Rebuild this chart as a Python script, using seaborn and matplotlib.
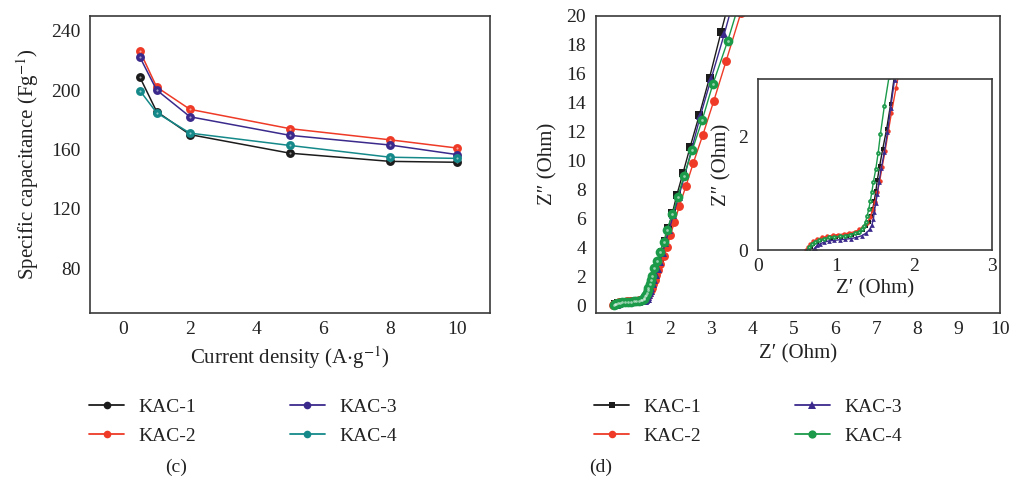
import matplotlib
matplotlib.use("Agg")
import matplotlib.pyplot as plt
from matplotlib.lines import Line2D
import seaborn as sns
import pandas as pd

sns.set_theme(style="white")
plt.rcParams["font.family"] = ["Liberation Serif", "DejaVu Serif"]
plt.rcParams["mathtext.fontset"] = "stix"

# ---- rate capability data (panel c) ----
current_density = [0.5, 1, 2, 5, 8, 10]
kac1_cap = [208.5, 185.5, 170.0, 157.5, 152.0, 151.4]
kac2_cap = [226.0, 202.0, 187.0, 174.0, 166.5, 161.0]
kac3_cap = [222.0, 200.0, 182.0, 169.5, 163.0, 156.6]
kac4_cap = [199.5, 184.7, 171.0, 162.7, 154.8, 154.0]

# ---- Nyquist data (panel d): real part Z' and imaginary part Z'' ----
kac1_zre = [0.66, 0.68, 0.71, 0.75, 0.80, 0.86, 0.93, 1.00, 1.07, 1.14, 1.21, 1.28,
            1.34, 1.39, 1.42, 1.45, 1.47, 1.49, 1.51, 1.53, 1.56, 1.60, 1.65, 1.70,
            1.75, 1.81, 1.88, 1.96, 2.06, 2.17, 2.32, 2.49, 2.71, 2.96, 3.24, 3.58]
kac1_zim = [0.00, 0.05, 0.10, 0.14, 0.17, 0.19, 0.21, 0.22, 0.23, 0.25, 0.27, 0.30,
            0.35, 0.42, 0.50, 0.60, 0.72, 0.86, 1.03, 1.23, 1.48, 1.78, 2.13, 2.56,
            3.07, 3.68, 4.42, 5.30, 6.37, 7.64, 9.16, 10.93, 13.12, 15.72, 18.87, 22.60]

kac2_zre = [0.62, 0.64, 0.67, 0.71, 0.76, 0.82, 0.89, 0.96, 1.03, 1.10, 1.17, 1.24,
            1.30, 1.35, 1.40, 1.44, 1.47, 1.50, 1.53, 1.56, 1.59, 1.63, 1.67, 1.71,
            1.77, 1.85, 1.93, 2.01, 2.11, 2.23, 2.39, 2.57, 2.80, 3.06, 3.36, 3.72, 4.10]
kac2_zim = [0.00, 0.05, 0.10, 0.15, 0.19, 0.22, 0.24, 0.26, 0.27, 0.28, 0.30, 0.32,
            0.36, 0.41, 0.48, 0.58, 0.70, 0.84, 1.01, 1.21, 1.45, 1.74, 2.08, 2.40,
            2.85, 3.40, 4.03, 4.83, 5.75, 6.86, 8.24, 9.85, 11.78, 14.08, 16.85, 20.20, 24.20]

kac3_zre = [0.71, 0.73, 0.76, 0.80, 0.85, 0.91, 0.98, 1.05, 1.12, 1.19, 1.26, 1.33,
            1.39, 1.43, 1.46, 1.48, 1.49, 1.51, 1.53, 1.55, 1.58, 1.62, 1.66, 1.70,
            1.75, 1.82, 1.89, 1.98, 2.08, 2.21, 2.36, 2.53, 2.74, 3.00, 3.32, 3.68]
kac3_zim = [0.00, 0.04, 0.08, 0.11, 0.14, 0.16, 0.17, 0.18, 0.19, 0.20, 0.22, 0.25,
            0.30, 0.36, 0.44, 0.55, 0.67, 0.82, 0.99, 1.19, 1.43, 1.72, 2.07, 2.49,
            2.99, 3.59, 4.31, 5.18, 6.22, 7.47, 8.97, 10.80, 13.10, 15.65, 18.76, 22.50]

kac4_zre = [0.64, 0.66, 0.69, 0.73, 0.78, 0.84, 0.91, 0.98, 1.05, 1.12, 1.18, 1.24,
            1.29, 1.33, 1.36, 1.38, 1.40, 1.42, 1.44, 1.46, 1.48, 1.51, 1.54, 1.57,
            1.62, 1.68, 1.76, 1.85, 1.93, 2.06, 2.19, 2.34, 2.54, 2.78, 3.04, 3.40, 3.78]
kac4_zim = [0.00, 0.05, 0.10, 0.14, 0.17, 0.20, 0.22, 0.23, 0.24, 0.25, 0.27, 0.29,
            0.32, 0.36, 0.42, 0.50, 0.60, 0.72, 0.86, 1.02, 1.20, 1.42, 1.70, 2.04,
            2.53, 3.04, 3.68, 4.37, 5.22, 6.26, 7.48, 8.93, 10.70, 12.77, 15.26, 18.25, 21.80]

labels = ["KAC-1", "KAC-2", "KAC-3", "KAC-4"]
cap_colors = ["#1c1c1c", "#EE3A26", "#3B2A8C", "#15898A"]
eis_colors = ["#1c1c1c", "#EE3A26", "#3B2A8C", "#1B9A4A"]
eis_markers = ["s", "o", "^", "o"]
eis_ms = [5.2, 6.4, 6.2, 7.0]
eis_ms_inset = [3.0, 3.2, 3.4, 3.4]

FS = 14
FS_LABEL = 15
TXT = "#222222"
SPINE = "#3a3a3a"

fig = plt.figure(figsize=(10.10, 4.83), dpi=100)
ax_c = fig.add_axes([0.0891, 0.352, 0.396, 0.6155])
ax_d = fig.add_axes([0.5898, 0.352, 0.4002, 0.6155])
ax_in = fig.add_axes([0.7505, 0.4824, 0.2317, 0.354])


def style_axes(ax, pad_x=6, pad_y=7):
    for s in ax.spines.values():
        s.set_visible(True)
        s.set_color(SPINE)
        s.set_linewidth(1.2)
    ax.tick_params(axis="both", length=0, labelsize=FS, colors=TXT)
    ax.tick_params(axis="x", pad=pad_x)
    ax.tick_params(axis="y", pad=pad_y)
    ax.grid(False)
    ax.set_facecolor("white")


def shine(ax, df, x, y, ms, sort=True):
    # small specular highlight drawn on top of sphere-like markers
    sns.lineplot(data=df, x=x, y=y, ax=ax, sort=sort, color="white", lw=0,
                 marker="o", markersize=ms, markeredgewidth=0, alpha=0.55,
                 legend=False)


# ---- panel (c) ----
cap_series = [kac1_cap, kac2_cap, kac3_cap, kac4_cap]
for lab, vals, col in zip(labels, cap_series, cap_colors):
    df = pd.DataFrame({"j": current_density, "C": vals})
    sns.lineplot(data=df, x="j", y="C", ax=ax_c, color=col, lw=1.1,
                 marker="o", markersize=6.4, markeredgewidth=0, legend=False)
    shine(ax_c, df, "j", "C", 1.5)
ax_c.set_xlim(-1, 11)
ax_c.set_ylim(50, 250)
ax_c.set_xticks([0, 2, 4, 6, 8, 10])
ax_c.set_yticks([80, 120, 160, 200, 240])
style_axes(ax_c)
ax_c.set_xlabel("Current density (A$\\cdot$g$^{-1}$)", fontsize=FS_LABEL, labelpad=4, color=TXT)
ax_c.set_ylabel("Specific capacitance (Fg$^{-1}$)", fontsize=FS_LABEL, labelpad=7, color=TXT)

# ---- panel (d) ----
zre = [kac1_zre, kac2_zre, kac3_zre, kac4_zre]
zim = [kac1_zim, kac2_zim, kac3_zim, kac4_zim]
for ax, sizes in ((ax_d, eis_ms), (ax_in, eis_ms_inset)):
    for lab, x, y, col, mk, ms in zip(labels, zre, zim, eis_colors, eis_markers, sizes):
        df = pd.DataFrame({"Zre": x, "Zim": y})
        sns.lineplot(data=df, x="Zre", y="Zim", ax=ax, sort=False, color=col,
                     lw=1.0, marker=mk, markersize=ms, markeredgewidth=0,
                     legend=False)
        if col == eis_colors[3]:
            shine(ax, df, "Zre", "Zim", ms * 0.28, sort=False)

ax_d.set_xlim(0.2, 10)
ax_d.set_ylim(-0.55, 20)
ax_d.set_xticks(range(1, 11))
ax_d.set_yticks(range(0, 21, 2))
style_axes(ax_d)
ax_d.set_xlabel("Z\u2032 (Ohm)", fontsize=FS_LABEL, labelpad=4, color=TXT)
ax_d.set_ylabel("Z\u2033 (Ohm)", fontsize=FS_LABEL, labelpad=6, color=TXT)

ax_in.set_xlim(0, 3)
ax_in.set_ylim(0, 3)
ax_in.set_xticks([0, 1, 2, 3])
ax_in.set_yticks([0, 2])
style_axes(ax_in, pad_x=6, pad_y=7)
ax_in.set_xlabel("Z\u2032 (Ohm)", fontsize=FS_LABEL, labelpad=3, color=TXT)
ax_in.set_ylabel("Z\u2033 (Ohm)", fontsize=FS_LABEL, labelpad=5, color=TXT)

# ---- legends below each panel ----
cap_handles = [Line2D([0], [0], color=c, lw=1.3, marker="o", markersize=5.5,
                      markeredgewidth=0) for c in cap_colors]
eis_handles = [Line2D([0], [0], color=c, lw=1.3, marker=m, markersize=s * 0.85,
                      markeredgewidth=0)
               for c, m, s in zip(eis_colors, eis_markers, eis_ms)]

leg_kw = dict(ncol=2, frameon=False, fontsize=FS, handlelength=1.8,
              handletextpad=0.75, columnspacing=4.8, labelspacing=0.62,
              borderaxespad=0, borderpad=0, labelcolor=TXT)
fig.legend(cap_handles, labels, loc="upper left",
           bbox_to_anchor=(89 / 1010, 1 - 398 / 483), **leg_kw)
fig.legend(eis_handles, labels, loc="upper left",
           bbox_to_anchor=(594 / 1010, 1 - 398 / 483), **leg_kw)

fig.text(176 / 1010, 1 - 467 / 483, "(c)", fontsize=FS, ha="center", va="center", color=TXT)
fig.text(601 / 1010, 1 - 467 / 483, "(d)", fontsize=FS, ha="center", va="center", color=TXT)

fig.savefig("out.png", dpi=100, facecolor="white")
